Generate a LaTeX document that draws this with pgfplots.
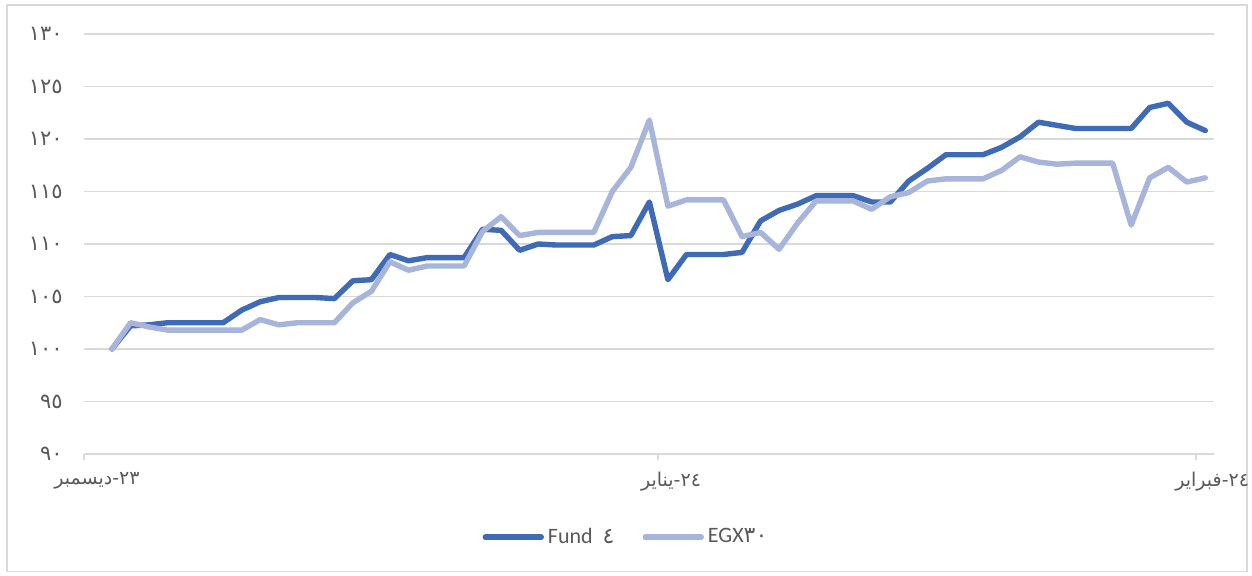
\documentclass[border=0pt]{standalone}
\usepackage{pgfplots}
\pgfplotsset{compat=1.18}
\usepackage{pgfplotstable}
\usepackage{fontspec}
\setmainfont{Carlito}
\newfontfamily\arabicfont[Script=Arabic]{DejaVu Sans}
\TeXXeTstate=1
\definecolor{fundc}{RGB}{63,106,181}
\definecolor{egxc}{RGB}{167,181,219}
\definecolor{gridc}{RGB}{217,217,217}
\definecolor{textc}{RGB}{89,89,89}
\newcommand{\arlab}[2]{\mbox{\arabicfont\beginR #1\endR}\mbox{\arabicfont -}\mbox{\arabicfont #2}}

\pgfplotstableread{
x y
0 100
1 102.2
2 102.3
3 102.5
4 102.5
5 102.5
6 102.5
7 103.7
8 104.5
9 104.9
10 104.9
11 104.9
12 104.8
13 106.5
14 106.6
15 109.0
16 108.4
17 108.7
18 108.7
19 108.7
20 111.4
21 111.3
22 109.4
23 110.0
24 109.9
25 109.9
26 109.9
27 110.7
28 110.8
29 114.0
30 106.6
31 109.0
32 109.0
33 109.0
34 109.2
35 112.2
36 113.2
37 113.8
38 114.6
39 114.6
40 114.6
41 114.0
42 114.0
43 116.0
44 117.2
45 118.5
46 118.5
47 118.5
48 119.2
49 120.2
50 121.6
51 121.3
52 121.0
53 121.0
54 121.0
55 121.0
56 123.0
57 123.4
58 121.6
59 120.8
}\fund

\pgfplotstableread{
x y
0 100
1 102.5
2 102.1
3 101.8
4 101.8
5 101.8
6 101.8
7 101.8
8 102.8
9 102.3
10 102.5
11 102.5
12 102.5
13 104.4
14 105.5
15 108.3
16 107.5
17 107.9
18 107.9
19 107.9
20 111.2
21 112.6
22 110.8
23 111.1
24 111.1
25 111.1
26 111.1
27 115.0
28 117.3
29 121.8
30 113.6
31 114.2
32 114.2
33 114.2
34 110.7
35 111.1
36 109.5
37 112.0
38 114.1
39 114.1
40 114.1
41 113.3
42 114.5
43 114.9
44 116.0
45 116.2
46 116.2
47 116.2
48 117.0
49 118.3
50 117.8
51 117.6
52 117.7
53 117.7
54 117.7
55 111.8
56 116.3
57 117.3
58 115.9
59 116.3
}\egx

\begin{document}
\begin{tikzpicture}
\useasboundingbox (0,0) rectangle (626pt,288pt);
\fill[white] (0,0) rectangle (626pt,288pt);
\draw[gridc, line width=0.75pt] (3.6pt,2.2pt) rectangle (623.6pt,285.6pt);
\begin{axis}[
  at={(42pt,61pt)}, anchor=south west,
  scale only axis, width=565pt, height=210pt,
  xmin=-1.51, xmax=59.47,
  ymin=90, ymax=130,
  ytick={90,95,...,130},
  yticklabels={{\arabicfont ٩٠},{\arabicfont ٩٥},{\arabicfont ١٠٠},{\arabicfont ١٠٥},{\arabicfont ١١٠},{\arabicfont ١١٥},{\arabicfont ١٢٠},{\arabicfont ١٢٥},{\arabicfont ١٣٠}},
  ymajorgrids=true,
  grid style={gridc, line width=0.75pt},
  axis line style={draw=none},
  ytick style={draw=none},
  xtick pos=bottom,
  tick align=outside,
  major tick length=3pt,
  xtick style={gridc, line width=0.75pt},
  xtick={-1.51,29.47},
  xticklabels={{\arlab{ديسمبر}{٢٣}},{\arlab{يناير}{٢٤}}},
  extra x ticks={58.5},
  extra x tick labels={{\arlab{فبراير}{٢٤}}},
  extra x tick style={grid=none, xticklabel style={anchor=north west, xshift=-17pt}},
  xticklabel style={font=\fontsize{9.5}{10}\selectfont, text=textc, inner sep=0pt, yshift=-6pt, xshift=6.5pt},
  yticklabel style={font=\fontsize{10.5}{11}\selectfont, text=textc, anchor=east, inner sep=0pt, xshift=-7.5pt},
  legend style={at={(0.4805,-0.198)}, anchor=center, draw=none, fill=none,
    legend columns=2, font=\fontsize{11}{12}\selectfont, text=textc,
    /tikz/every even column/.append style={column sep=12pt}},
  legend image code/.code={\draw[#1] (0pt,0pt) -- (28pt,0pt);},
  legend cell align=left,
]
\addplot[fundc, line width=2.7pt, line join=round, line cap=round] table[x=x,y=y] {\fund};
\addlegendentry{Fund\hspace{5pt}{\arabicfont ٤}}
\addplot[egxc, line width=2.7pt, line join=round, line cap=round] table[x=x,y=y] {\egx};
\addlegendentry{EGX{\arabicfont ٣٠}}
\end{axis}
\end{tikzpicture}
\end{document}
